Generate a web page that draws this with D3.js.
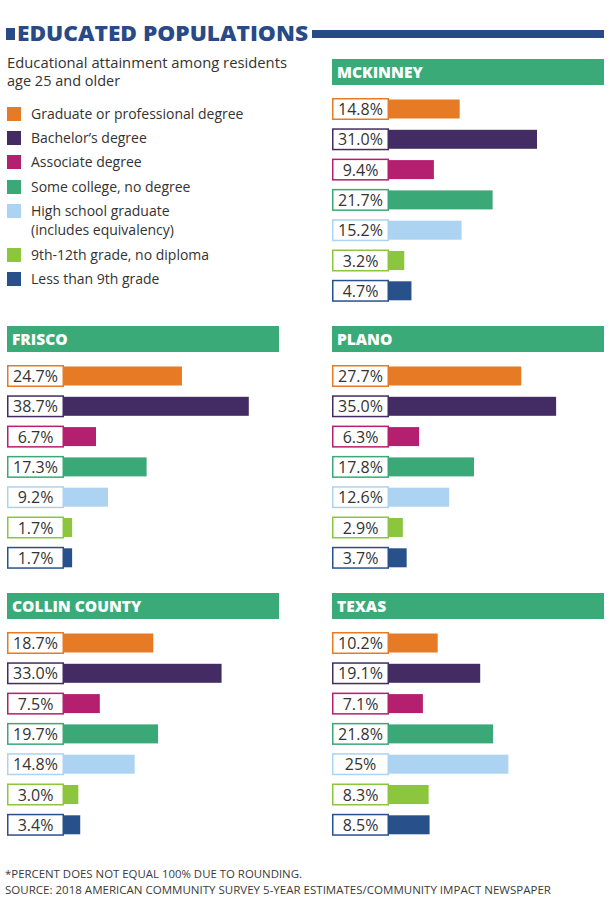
<!DOCTYPE html>
<html>
<head>
<meta charset="utf-8">
<script src="https://cdn.jsdelivr.net/npm/d3@7"></script>
<style>
  body { margin: 0; background: #fff; }
  svg { display: block; }
</style>
</head>
<body>
<div id="chart"></div>
<script>
// categories, in legend order
var categories = [
  "Graduate or professional degree",
  "Bachelor\u2019s degree",
  "Associate degree",
  "Some college, no degree",
  "High school graduate|(includes equivalency)",
  "9th-12th grade, no diploma",
  "Less than 9th grade"
];
var colors = ["#e67a25", "#432c63", "#b51f6f", "#3aa877", "#acd3f1", "#8cc63f", "#28508b"];

// values as printed in the boxes (percent)
var panels = ["MCKINNEY", "FRISCO", "PLANO", "COLLIN COUNTY", "TEXAS"];
var mckinney = ["14.8", "31.0", "9.4", "21.7", "15.2", "3.2", "4.7"];
var frisco = ["24.7", "38.7", "6.7", "17.3", "9.2", "1.7", "1.7"];
var plano = ["27.7", "35.0", "6.3", "17.8", "12.6", "2.9", "3.7"];
var collin = ["18.7", "33.0", "7.5", "19.7", "14.8", "3.0", "3.4"];
var texas = ["10.2", "19.1", "7.1", "21.8", "25", "8.3", "8.5"];
var panelValues = [mckinney, frisco, plano, collin, texas];

var notes = [
  "*PERCENT DOES NOT EQUAL 100% DUE TO ROUNDING.",
  "SOURCE: 2018 AMERICAN COMMUNITY SURVEY 5-YEAR ESTIMATES/COMMUNITY IMPACT NEWSPAPER"
];

var W = 611, H = 900;
var navy = "#284a87";
var headGreen = "#3aaa78";
var font = "'Open Sans', 'Noto Sans', sans-serif";

var svg = d3.select("#chart").append("svg")
  .attr("width", W).attr("height", H);

// title
svg.append("rect").attr("x", 6).attr("y", 28).attr("width", 9).attr("height", 12).attr("fill", navy);
svg.append("text")
  .attr("x", 17).attr("y", 41)
  .attr("font-family", font).attr("font-weight", 800).attr("font-size", 21)
  .attr("textLength", 291).attr("lengthAdjust", "spacingAndGlyphs")
  .attr("fill", navy)
  .text("EDUCATED POPULATIONS");
svg.append("rect").attr("x", 312).attr("y", 30).attr("width", 292).attr("height", 8).attr("fill", navy);

// subtitle
svg.append("text").attr("x", 7).attr("y", 68)
  .attr("font-family", font).attr("font-size", 14.5).attr("fill", "#333")
  .attr("textLength", 280).attr("lengthAdjust", "spacingAndGlyphs")
  .text("Educational attainment among residents");
svg.append("text").attr("x", 7).attr("y", 86)
  .attr("font-family", font).attr("font-size", 14.5).attr("fill", "#333")
  .text("age 25 and older");

// legend
var legendY = [114, 138, 162, 187, 211, 255, 279];
var legend = svg.append("g");
categories.forEach(function(c, i) {
  var lines = c.split("|");
  legend.append("rect")
    .attr("x", 7).attr("y", legendY[i] - 7).attr("width", 14).attr("height", 14)
    .attr("fill", colors[i]);
  lines.forEach(function(l, j) {
    legend.append("text")
      .attr("x", 31).attr("y", legendY[i] + 5 + j * 19)
      .attr("font-family", font).attr("font-size", 14).attr("fill", "#333")
      .text(l);
  });
});

// panels
var colX = [7, 332];
var rowY = [59, 326, 593];
var panelPos = [[1, 0], [0, 1], [1, 1], [0, 2], [1, 2]];
var headW = 272, headH = 26;
var boxW = 57, boxH = 22, barH = 19;

var x = d3.scaleLinear().domain([0, 40]).range([0, 191]);
var y = d3.scaleBand().domain(d3.range(categories.length))
  .range([39, 39 + 30.3 * categories.length]).paddingInner(0);

panels.forEach(function(name, p) {
  var px = colX[panelPos[p][0]], py = rowY[panelPos[p][1]];
  var g = svg.append("g").attr("transform", "translate(" + px + "," + py + ")");

  g.append("rect").attr("width", headW).attr("height", headH).attr("fill", headGreen);
  g.append("text").attr("x", 5).attr("y", 19)
    .attr("font-family", font).attr("font-weight", 800).attr("font-size", 15.5)
    .attr("fill", "#fff")
    .text(name);

  var rows = g.selectAll(".row").data(panelValues[p]).enter().append("g")
    .attr("transform", function(d, i) { return "translate(0," + y(i) + ")"; });

  rows.append("rect")
    .attr("x", boxW).attr("y", (boxH - barH) / 2)
    .attr("width", function(d) { return x(+d); })
    .attr("height", barH)
    .attr("fill", function(d, i) { return colors[i]; });

  rows.append("rect")
    .attr("x", 0.75).attr("y", 0.75)
    .attr("width", boxW - 1.5).attr("height", boxH - 1.5)
    .attr("fill", "#fff")
    .attr("stroke", function(d, i) { return colors[i]; })
    .attr("stroke-width", 1.5);

  rows.append("text")
    .attr("x", boxW / 2).attr("y", boxH / 2 + 6)
    .attr("text-anchor", "middle")
    .attr("font-family", font).attr("font-size", 16).attr("fill", "#333")
    .text(function(d) { return d + "%"; });
});

// footnotes
var noteLen = [297, 546];
notes.forEach(function(n, i) {
  svg.append("text")
    .attr("x", 5).attr("y", 878 + i * 16)
    .attr("font-family", font).attr("font-size", 11.5).attr("fill", "#3a3a3a")
    .attr("textLength", noteLen[i]).attr("lengthAdjust", "spacingAndGlyphs")
    .text(n);
});
</script>
</body>
</html>
